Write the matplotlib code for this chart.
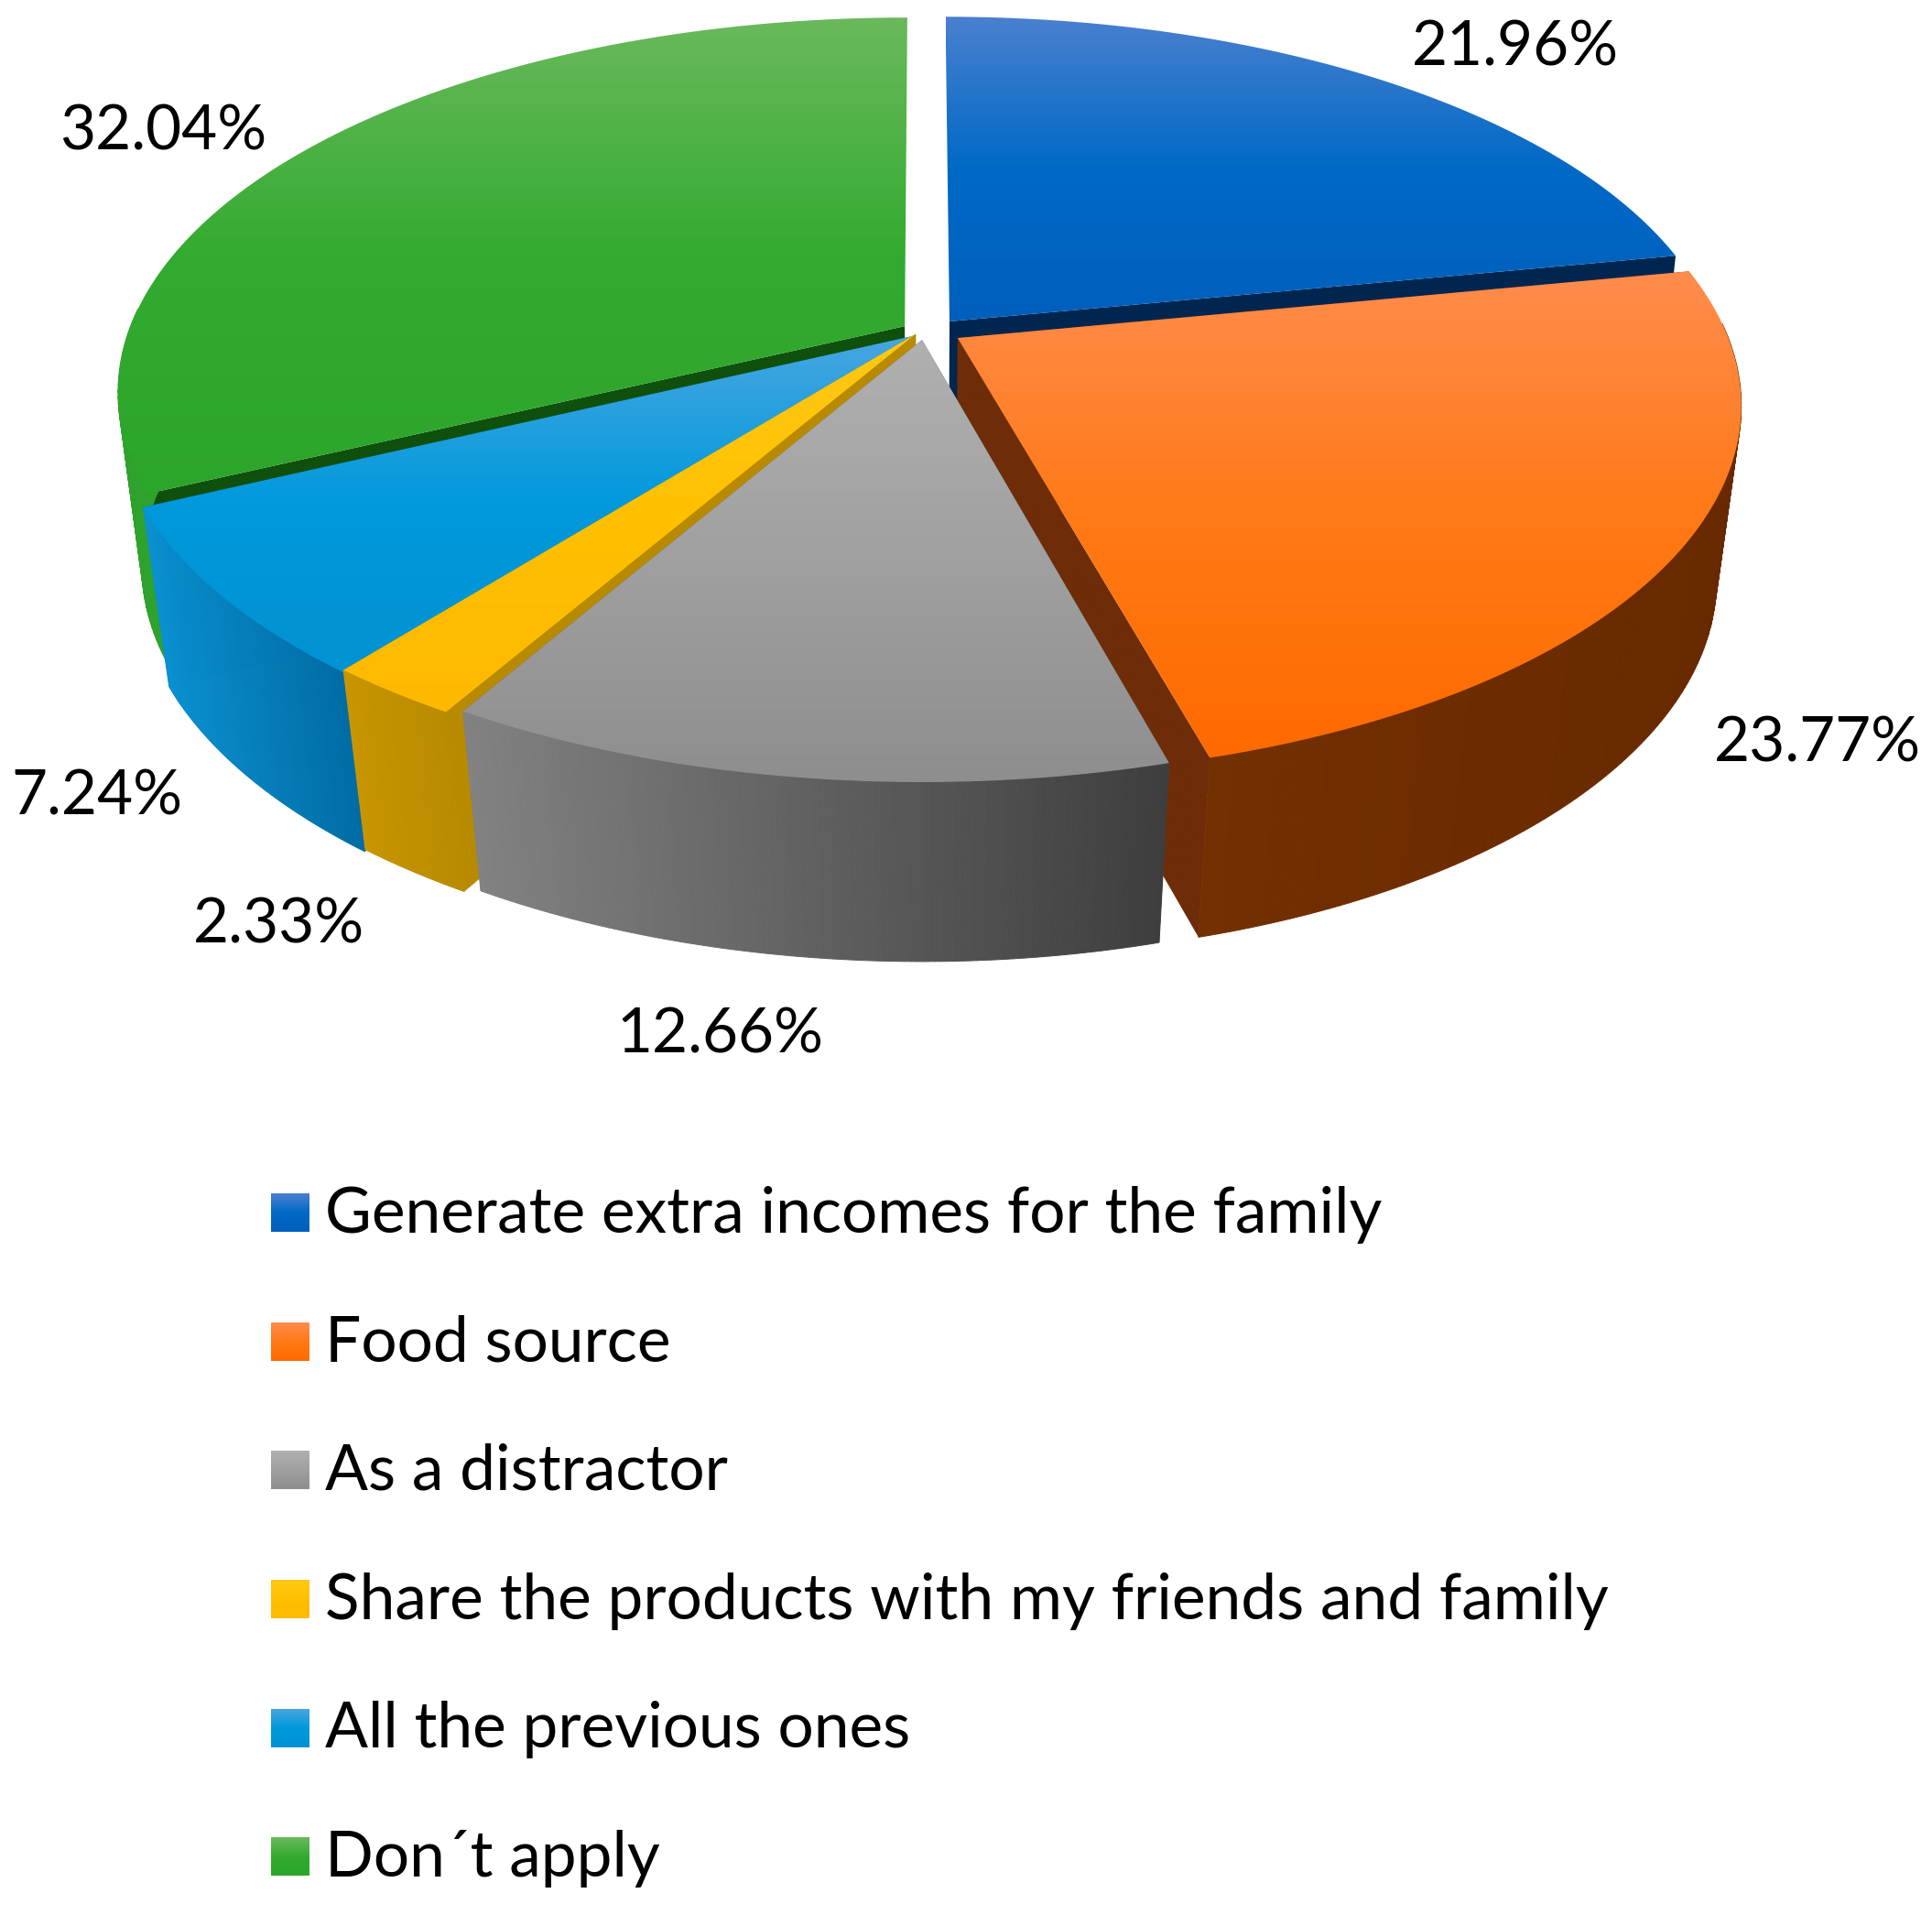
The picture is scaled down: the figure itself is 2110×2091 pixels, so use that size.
import numpy as np
import matplotlib
matplotlib.use("Agg")
import matplotlib.pyplot as plt
from matplotlib.colors import LinearSegmentedColormap
from matplotlib.patches import Polygon

plt.rcParams['font.family'] = ['Lato', 'DejaVu Sans']

labels = ["Generate extra incomes for the family", "Food source", "As a distractor",
          "Share the products with my friends and family", "All the previous ones", "Don´t apply"]
values = [21.96, 23.77, 12.66, 2.33, 7.24, 32.04]

top_colors = [["#4a80cf", "#0069c6", "#005fbc"],
              ["#ff8c4d", "#ff7a17", "#ff6a00"],
              ["#b0b0b0", "#a0a0a0", "#8e8e8e"],
              ["#ffc917", "#ffc000", "#fdb900"],
              ["#48a6e0", "#0099dc", "#0092d2"],
              ["#6ab95c", "#33ab30", "#2ba52a"]]
side_colors = [["#003060", "#003060"],
               ["#733000", "#682900"],
               ["#828282", "#3e3e3e"],
               ["#c79500", "#b98b00"],
               ["#0a90d0", "#006ca4"],
               ["#2ea22c", "#2ea22c"]]
wall_colors = ["#00264f", "#6e2d08", "#5a5a5a", "#b88a00", "#00699c", "#0f500c"]

# plane offset and radius of every slice, slices are not exactly regular in the picture
offsets = [(0.035, 0.03), (0.045, -0.015), (0.0, -0.02), (-0.008, -0.004), (-0.008, -0.008), (-0.022, 0.017)]
radius = [0.975, 0.975, 0.98, 1.0, 1.0, 0.985]
draw_order = [5, 0, 1, 4, 3, 2]

label_pos = [(1655, 52), (1985, 813), (787, 1130), (304, 1010), (106, 870), (178, 145)]

CX, CY = 1007, 363
A, B, P = 861, 404, 0.177
DEPTH = 196

fig = plt.figure(figsize=(21.10, 20.91), dpi=100)
ax = fig.add_axes([0, 0, 1, 1])


def project(u, v):
    w = 1 + P * v
    return CX + A * u / w, CY - B * v / w, w


def under(x, y, w):
    s = 0.972 - (1 - w) * 0.07
    return CX + (x - CX) * s, y + DEPTH


def grad_fill(xs, ys, colors):
    cmap = LinearSegmentedColormap.from_list("g", colors)
    grad = np.linspace(0, 1, 256).reshape(-1, 1)
    poly = Polygon(np.column_stack([xs, ys]), closed=True, facecolor="none", edgecolor="none")
    ax.add_patch(poly)
    im = ax.imshow(grad, cmap=cmap, aspect="auto", interpolation="bilinear",
                   extent=[min(xs), max(xs), max(ys), min(ys)], zorder=2)
    im.set_clip_path(poly)


def draw_rim(th, x, y, bx, by, colors):
    # one quad per step, a single polygon would lose the silhouette where the arcs cross
    cmap = LinearSegmentedColormap.from_list("r", colors)
    t = (x - x.min()) / (x.max() - x.min())
    for j in range(len(x) - 1):
        if np.cos(th[j]) > 0.05 or np.cos(th[j + 1]) > 0.05:
            continue  # back of the pie, hidden by the top face
        ax.fill([x[j], x[j + 1], bx[j + 1], bx[j]], [y[j], y[j + 1], by[j + 1], by[j]],
                color=cmap(t[j]), lw=0.7, zorder=2)


def draw_slice(i, t1, t2):
    dx, dy = offsets[i]
    r = radius[i]
    th = np.linspace(t1, t2, 120)
    x, y, w = project(r * np.sin(th) + dx, r * np.cos(th) + dy)
    bx, by = under(x, y, w)
    ax0, ay0, aw = project(dx, dy)
    abx, aby = under(ax0, ay0, aw)

    # cut walls, the ones pointing straight back can't be seen
    for k in [0, -1]:
        if np.cos(th[k]) > 0.9:
            continue
        grad_fill([ax0, x[k], bx[k], abx], [ay0, y[k], by[k], aby],
                  [wall_colors[i], wall_colors[i]])
    draw_rim(th, x, y, bx, by, side_colors[i])
    # top face
    grad_fill(np.r_[ax0, x], np.r_[ay0, y], top_colors[i])


edges = np.radians(np.r_[0, np.cumsum(values)] / sum(values) * 360)
for i in draw_order:
    draw_slice(i, edges[i], edges[i + 1])

for i in range(len(values)):
    ax.text(label_pos[i][0], label_pos[i][1], "%.2f%%" % values[i], fontsize=48.5,
            ha="center", va="center", color="black", zorder=5)

for i, lab in enumerate(labels):
    yc = 1324 + 140.7 * i
    cmap = LinearSegmentedColormap.from_list("s", top_colors[i])
    ax.imshow(np.linspace(0, 1, 64).reshape(-1, 1), cmap=cmap, aspect="auto",
              extent=[296, 338, yc + 21, yc - 21], zorder=3)
    ax.text(355, yc + 2, lab, fontsize=50, ha="left", va="center", color="black", zorder=5)

ax.set_xlim(0, 2110)
ax.set_ylim(2091, 0)
ax.axis("off")
fig.savefig("out.png", dpi=100, facecolor="white")
